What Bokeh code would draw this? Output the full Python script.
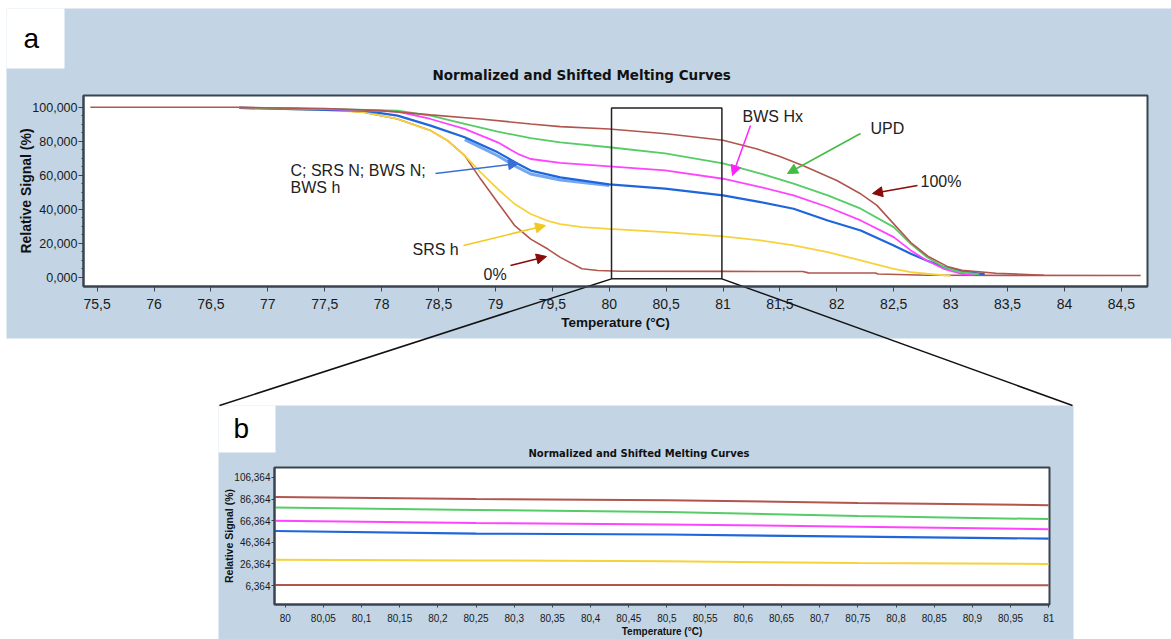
from bokeh.plotting import figure
from bokeh.models import Range1d, FixedTicker, BoxAnnotation, Arrow, NormalHead, Label
from bokeh.core.properties import value
from bokeh.embed import file_html
from bokeh.resources import INLINE

# ---------------- data: panel a (full melting curves) ----------------
t_100 = [76.75, 77.5, 78.0, 78.43, 78.87, 79.31, 79.57, 80.0, 80.5, 81.0, 81.3, 81.5, 81.7,
         82.0, 82.2, 82.35, 82.5, 82.65, 82.8, 82.97, 83.1, 83.4, 83.82]
v_100 = [99.8, 99.3, 98.0, 95.5, 93.1, 90.2, 88.6, 87.2, 84.4, 80.6, 75.5, 71.0, 65.8,
         57.0, 49.5, 42.5, 31.5, 20.5, 12.5, 6.5, 4.2, 2.5, 1.3]

t_upd = [76.75, 77.5, 78.14, 78.43, 78.73, 79.02, 79.31, 79.57, 80.0, 80.49, 81.0, 81.33,
         81.62, 81.92, 82.21, 82.5, 82.65, 82.79, 82.94, 83.09, 83.25]
v_upd = [99.8, 99.0, 98.0, 95.1, 90.2, 85.7, 81.8, 79.4, 76.5, 72.9, 67.0, 61.0,
         55.1, 48.2, 40.4, 29.6, 19.8, 12.0, 6.1, 3.1, 2.0]

t_hx = [76.75, 77.5, 78.14, 78.43, 78.73, 79.02, 79.2, 79.31, 79.57, 80.0, 80.49, 81.0,
        81.33, 81.62, 81.92, 82.21, 82.5, 82.65, 82.79, 82.94, 83.09, 83.2]
v_hx = [99.7, 98.9, 97.5, 93.1, 87.3, 79.4, 72.5, 69.6, 67.3, 65.3, 62.9, 58.0,
        53.1, 48.2, 41.4, 33.5, 23.7, 15.9, 10.0, 5.1, 2.2, 1.5]

t_n = [76.75, 77.5, 77.84, 78.14, 78.43, 78.73, 79.02, 79.2, 79.31, 79.57, 80.0, 80.49,
       81.0, 81.33, 81.62, 81.92, 82.21, 82.5, 82.65, 82.79, 82.94, 83.09, 83.3]
v_n = [99.6, 98.5, 98.0, 95.1, 89.2, 82.4, 73.5, 66.7, 62.8, 58.8, 54.7, 52.2,
       48.2, 44.3, 40.4, 33.5, 27.6, 18.8, 13.9, 10.0, 6.1, 3.7, 1.8]

t_n2 = [78.73, 79.02, 79.2, 79.31, 79.57, 80.0]
v_n2 = [81.0, 71.5, 64.5, 60.8, 57.3, 54.0]

t_srs = [76.75, 77.5, 77.84, 78.14, 78.43, 78.58, 78.73, 78.87, 79.02, 79.17, 79.31, 79.46,
         79.57, 79.76, 80.0, 80.49, 81.0, 81.33, 81.62, 81.92, 82.21, 82.5, 82.65, 82.79, 83.0]
v_srs = [99.5, 98.3, 97.1, 93.1, 86.3, 80.4, 71.6, 61.8, 52.0, 43.1, 37.3, 33.3,
         31.4, 29.6, 28.6, 26.6, 24.1, 21.8, 18.8, 14.9, 10.0, 5.1, 3.1, 2.2, 1.0]

t_0 = [75.44, 76.75, 77.5, 77.84, 78.14, 78.43, 78.58, 78.73, 78.87, 79.02, 79.17, 79.31,
       79.46, 79.57, 79.76, 79.9, 80.1, 81.0, 81.7, 81.75, 82.34, 82.36, 82.8, 84.67]
v_0 = [100.0, 100.0, 98.8, 97.1, 93.1, 86.3, 80.4, 71.6, 57.8, 44.1, 30.4, 22.5,
       16.7, 11.8, 5.1, 4.1, 3.7, 3.6, 3.5, 2.7, 2.6, 2.0, 1.3, 1.2]

xa_ticks = [75.5, 76, 76.5, 77, 77.5, 78, 78.5, 79, 79.5, 80, 80.5, 81, 81.5, 82, 82.5, 83, 83.5, 84, 84.5]
xa_labels = ["75,5", "76", "76,5", "77", "77,5", "78", "78,5", "79", "79,5", "80", "80,5",
             "81", "81,5", "82", "82,5", "83", "83,5", "84", "84,5"]
ya_ticks = [0, 20, 40, 60, 80, 100]
ya_labels = ["0,000", "20,000", "40,000", "60,000", "80,000", "100,000"]

# ---------------- data: panel b (zoom 80-81 degC) ----------------
tb = [79.986, 80.25, 80.5, 80.75, 81.0]
b_100 = [88.3, 86.3, 85.2, 82.8, 80.7]
b_upd = [78.6, 76.3, 74.3, 70.6, 67.8]
b_hx = [66.3, 64.2, 62.9, 60.8, 58.4]
b_n = [56.8, 54.4, 53.6, 51.6, 49.8]
b_srs = [30.2, 29.6, 28.8, 27.2, 26.3]
b_0 = [7.0, 6.9, 6.9, 6.8, 6.7]

xb_ticks = [80, 80.05, 80.1, 80.15, 80.2, 80.25, 80.3, 80.35, 80.4, 80.45, 80.5,
            80.55, 80.6, 80.65, 80.7, 80.75, 80.8, 80.85, 80.9, 80.95, 81]
xb_labels = ["80", "80,05", "80,1", "80,15", "80,2", "80,25", "80,3", "80,35", "80,4", "80,45", "80,5",
             "80,55", "80,6", "80,65", "80,7", "80,75", "80,8", "80,85", "80,9", "80,95", "81"]
yb_ticks = [6.364, 26.364, 46.364, 66.364, 86.364, 106.364]
yb_labels = ["6,364", "26,364", "46,364", "66,364", "86,364", "106,364"]

# ---------------- styling ----------------
BG = "#c3d5e5"
DARK = "#3a4450"
C_BROWN = "#b0564e"
C_GREEN = "#55cc66"
C_MAG = "#ff44ff"
C_BLUE = "#1f66dc"
C_BLUE2 = "#72a8f0"
C_YEL = "#f6d23c"
SANS = "Liberation Sans"

W, H = 1171, 639
# panel a canvas & frame (pixels)
HA = 405
FA_L, FA_R, FA_T, FA_B = 83, 1147, 95, 286
XA = (75.38, 84.73)
YA = (-5.3, 106.9)
ZOOM_X = (80.02, 80.99)
ZOOM_Y = (-0.8, 99.6)
# panel b canvas & frame
TOP_B = 405
HB = H - TOP_B
FB_L, FB_R, FB_T, FB_B = 274, 1049, 62, 200
XB = (79.986, 81.001)
YB = (-11.1, 115.5)


def ax_(px):
    return XA[0] + (px - FA_L) * (XA[1] - XA[0]) / (FA_R - FA_L)


def ay_(py):
    return YA[1] - (py - FA_T) * (YA[1] - YA[0]) / (FA_B - FA_T)


def apx(x):
    return FA_L + (x - XA[0]) * (FA_R - FA_L) / (XA[1] - XA[0])


def apy(y):
    return FA_T + (YA[1] - y) * (FA_B - FA_T) / (YA[1] - YA[0])


# connector end points on the page (top corners of panel b backdrop)
CONN_END = [(219, 405), (1072, 405)]

# ================= page backdrop (drawn underneath both charts) =================
deco = figure(width=W, height=H, x_range=Range1d(0, W), y_range=Range1d(H, 0),
              output_backend="svg", toolbar_location=None, min_border=0,
              x_axis_type=None, y_axis_type=None, outline_line_color=None,
              background_fill_color="white", border_fill_color="white")
deco.grid.visible = False
deco.quad(left=[6, 218], right=[W, 1073], top=[8, TOP_B], bottom=[338, H],
          fill_color=BG, line_color=None)
deco.quad(left=[6, 218], right=[64, 275], top=[8, TOP_B], bottom=[68, 452],
          fill_color="white", line_color=None)
deco.text(x=[23, 233], y=[38, 428], text=["a", "b"], text_font=value(SANS),
          text_font_size="28px", text_baseline="middle", text_color="black")
deco.segment(x0=[apx(ZOOM_X[0]), apx(ZOOM_X[1])], y0=[apy(ZOOM_Y[0])] * 2,
             x1=[CONN_END[0][0], CONN_END[1][0]], y1=[CONN_END[0][1], CONN_END[1][1]],
             line_color="#111111", line_width=1.5)
deco.styles = {"position": "absolute", "left": "0px", "top": "0px"}


def make_fig(h, fl, fr, ft, fb, xr, yr):
    p = figure(width=W, height=h, x_range=Range1d(*xr), y_range=Range1d(*yr),
               output_backend="svg", toolbar_location=None,
               min_border_left=fl, min_border_right=W - fr, min_border_top=ft,
               min_border_bottom=h - fb, border_fill_alpha=0,
               background_fill_color="white", outline_line_color=DARK,
               outline_line_width=2)
    p.xgrid.visible = False
    p.ygrid.visible = False
    for a in p.axis:
        a.axis_line_color = DARK
        a.axis_line_width = 2
        a.major_tick_line_color = DARK
        a.minor_tick_line_color = DARK
        a.major_tick_in = 0
        a.minor_tick_in = 0
        a.major_label_text_color = "#1a1a1a"
        a.major_label_text_font = SANS
        a.axis_label_text_color = "#111111"
        a.axis_label_text_font = SANS
        a.axis_label_text_font_style = "bold"
    p.title.text_font = "DejaVu Sans"
    p.title.text_font_style = "bold"
    p.title.align = "left"
    p.title.text_color = "#111111"
    return p


# ================= panel a =================
pa = make_fig(HA, FA_L, FA_R, FA_T, FA_B, XA, YA)
pa.styles = {"position": "absolute", "left": "0px", "top": "0px"}

pa.title.text = "Normalized and Shifted Melting Curves"
pa.title.text_font_size = "13.5px"
pa.title.offset = 432 - FA_L
pa.title.standoff = 25

series_a = [
    (t_0, v_0, C_BROWN, 1.6),
    (t_srs, v_srs, C_YEL, 1.8),
    (t_n2, v_n2, C_BLUE2, 3.0),
    (t_n, v_n, C_BLUE, 2.2),
    (t_hx, v_hx, C_MAG, 1.8),
    (t_upd, v_upd, C_GREEN, 1.8),
    (t_100, v_100, C_BROWN, 1.6),
]
for t, v, c, w in series_a:
    pa.line(t, v, line_color=c, line_width=w)

pa.xaxis.ticker = FixedTicker(ticks=xa_ticks)
pa.xaxis.major_label_overrides = dict(zip(xa_ticks, xa_labels))
pa.yaxis.ticker = FixedTicker(ticks=ya_ticks, minor_ticks=[i * 5 for i in range(0, 21)])
pa.yaxis.major_label_overrides = dict(zip(ya_ticks, ya_labels))
for a in pa.axis:
    a.major_tick_out = 5
    a.minor_tick_out = 2
pa.xaxis.minor_tick_line_color = None
pa.xaxis.major_label_text_font_size = "14px"
pa.xaxis.major_label_standoff = 7
pa.xaxis.axis_label = "Temperature (°C)"
pa.xaxis.axis_label_text_font_size = "13.5px"
pa.xaxis.axis_label_standoff = 3
pa.yaxis.major_label_text_font_size = "12.5px"
pa.yaxis.major_label_standoff = 1
pa.yaxis.axis_label = "Relative Signal (%)"
pa.yaxis.axis_label_text_font_size = "14px"
pa.yaxis.axis_label_standoff = -5

# zoom rectangle and the part of the connectors inside the frame
pa.add_layout(BoxAnnotation(left=ZOOM_X[0], right=ZOOM_X[1], bottom=ZOOM_Y[0], top=ZOOM_Y[1],
                            fill_alpha=0, line_color="#222222", line_alpha=1, line_width=1.5,
                            level="overlay"))
pa.segment(x0=[ZOOM_X[0], ZOOM_X[1]], y0=[ZOOM_Y[0]] * 2,
           x1=[ax_(CONN_END[0][0]), ax_(CONN_END[1][0])], y1=[ay_(CONN_END[0][1])] * 2,
           line_color="#111111", line_width=1.5)

# annotations (pixel positions converted to data)
arrows = [
    ((435, 173), (518, 163), "#3b6fd6"),
    ((463, 245), (545, 225), "#f2c81e"),
    ((510, 265), (546, 256), "#8b0a0a"),
    ((750, 125), (732, 175), "#ff22ff"),
    ((860, 133), (787, 173), "#44bb44"),
    ((917, 185), (872, 193), "#8b0a0a"),
]
for (x0, y0), (x1, y1), c in arrows:
    pa.add_layout(Arrow(x_start=ax_(x0), y_start=ay_(y0), x_end=ax_(x1), y_end=ay_(y1),
                        line_color=c, line_width=1.5,
                        end=NormalHead(size=10, fill_color=c, line_color=c)))

texts = [
    (290, 170, "C; SRS N; BWS N;"),
    (290, 187, "BWS h"),
    (412, 249, "SRS h"),
    (483, 274, "0%"),
    (742, 116, "BWS Hx"),
    (870, 128, "UPD"),
    (920, 181, "100%"),
]
for x, y, s in texts:
    pa.add_layout(Label(x=ax_(x), y=ay_(y), text=s, text_font=SANS, text_font_size="16px",
                        text_baseline="middle", text_color="#222222"))

# ================= panel b =================
pb = make_fig(HB, FB_L, FB_R, FB_T, FB_B, XB, YB)
pb.styles = {"position": "absolute", "left": "0px", "top": f"{TOP_B}px"}

pb.title.text = "Normalized and Shifted Melting Curves"
pb.title.text_font_size = "10px"
pb.title.offset = 528 - FB_L
pb.title.standoff = 17

series_b = [
    (b_0, C_BROWN, 2.0),
    (b_srs, C_YEL, 2.0),
    (b_n, C_BLUE, 2.2),
    (b_hx, C_MAG, 2.0),
    (b_upd, C_GREEN, 2.0),
    (b_100, C_BROWN, 2.0),
]
for v, c, w in series_b:
    pb.line(tb, v, line_color=c, line_width=w)

pb.xaxis.ticker = FixedTicker(ticks=xb_ticks)
pb.xaxis.major_label_overrides = dict(zip(xb_ticks, xb_labels))
pb.yaxis.ticker = FixedTicker(ticks=yb_ticks)
pb.yaxis.major_label_overrides = dict(zip(yb_ticks, yb_labels))
for a in pb.axis:
    a.major_label_text_font_size = "10px"
    a.major_tick_out = 3
    a.minor_tick_line_color = None
pb.xaxis.major_label_standoff = 6
pb.yaxis.major_label_standoff = 1
pb.xaxis.axis_label = "Temperature (°C)"
pb.xaxis.axis_label_text_font_size = "10px"
pb.xaxis.axis_label_standoff = 1
pb.yaxis.axis_label = "Relative Signal (%)"
pb.yaxis.axis_label_text_font_size = "10.5px"
pb.yaxis.axis_label_standoff = -4

open("out.html", "w").write(file_html([deco, pa, pb], INLINE))
